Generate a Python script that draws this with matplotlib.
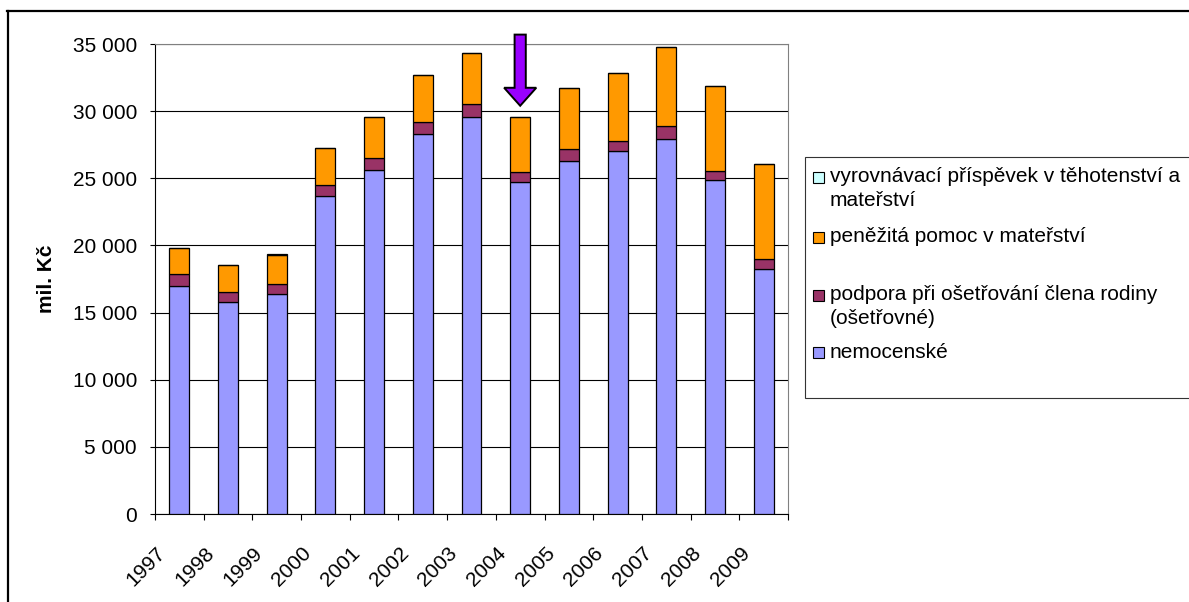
import matplotlib
matplotlib.use('Agg')
import matplotlib.pyplot as plt
import matplotlib.transforms as mtransforms
from matplotlib.patches import Rectangle, FancyArrow
from matplotlib.lines import Line2D
import numpy as np

plt.rcParams['font.family'] = ['Liberation Sans', 'DejaVu Sans']

# data (mil. Kč)
years = ['1997', '1998', '1999', '2000', '2001', '2002', '2003',
         '2004', '2005', '2006', '2007', '2008', '2009']
nemocenske = [16950, 15760, 16400, 23700, 25590, 28320, 29580,
              24720, 26300, 27050, 27950, 24840, 18220]
osetrovne = [920, 740, 750, 800, 940, 840, 950,
             750, 900, 750, 920, 720, 740]
penezita_pomoc = [1910, 2020, 2150, 2780, 3050, 3500, 3820,
                  4110, 4500, 5060, 5880, 6340, 7140]
vyrovnavaci = [0, 0, 60, 0, 0, 0, 0, 0, 0, 0, 0, 0, 0]

yticks = [0, 5000, 10000, 15000, 20000, 25000, 30000, 35000]
ytick_labels = ['0', '5 000', '10 000', '15 000', '20 000', '25 000', '30 000', '35 000']

legend_labels = {
    'vyrovnavaci': ['vyrovnávací příspěvek v těhotenství a', 'mateřství'],
    'penezita': ['peněžitá pomoc v mateřství'],
    'osetrovne': ['podpora při ošetřování člena rodiny', '(ošetřovné)'],
    'nemocenske': ['nemocenské'],
}

c_blue = '#9999FF'
c_maroon = '#993366'
c_orange = '#FF9900'
c_cyan = '#CCFFFF'

W, H = 1189, 602
fig = plt.figure(figsize=(W / 100, H / 100), dpi=100)
ax = fig.add_axes([155 / W, 88 / H, 633 / W, 470 / H])

x = np.arange(len(years))
bw = 0.41
b1 = np.array(nemocenske)
b2 = b1 + np.array(osetrovne)
b3 = b2 + np.array(penezita_pomoc)
kw = dict(width=bw, edgecolor='black', linewidth=0.9, zorder=3)
ax.bar(x, nemocenske, color=c_blue, **kw)
ax.bar(x, osetrovne, bottom=b1, color=c_maroon, **kw)
ax.bar(x, penezita_pomoc, bottom=b2, color=c_orange, **kw)
ax.bar(x, vyrovnavaci, bottom=b3, color=c_cyan, **kw)

# arrow over 2004
arr = FancyArrow(7, 35700, 0, -5300, width=0.23, head_width=0.66,
                 head_length=1340, length_includes_head=True,
                 facecolor='#9900FF', edgecolor='black', linewidth=1.4,
                 clip_on=False, zorder=5)
ax.add_patch(arr)

ax.set_xlim(-0.5, len(years) - 0.5)
ax.set_ylim(0, 35000)
ax.set_yticks(yticks)
ax.set_yticklabels(ytick_labels, fontsize=15)
ax.yaxis.grid(True, color='black', linewidth=0.8)
ax.set_axisbelow(True)
ax.tick_params(axis='y', direction='out', length=3.6, width=0.8, pad=9.4)

ax.set_xticks(x)
ax.set_xticklabels(years, fontsize=15, rotation=45, ha='right', va='center',
                   rotation_mode='anchor')
ax.set_xticks(np.arange(-0.5, len(years), 1), minor=True)
ax.tick_params(axis='x', which='major', length=0, pad=0)
ax.tick_params(axis='x', which='minor', direction='out', length=4.3, width=0.8)
offset = mtransforms.ScaledTranslation(-0.17, -0.36, fig.dpi_scale_trans)
for lbl in ax.get_xticklabels():
    lbl.set_transform(lbl.get_transform() + offset)

ax.spines['left'].set_color('black')
ax.spines['bottom'].set_color('black')
ax.spines['top'].set_color('#808080')
ax.spines['right'].set_color('#808080')
for s in ax.spines.values():
    s.set_linewidth(0.8)

ax.set_ylabel('mil. Kč', fontsize=15, fontweight='bold', va='center')
ax.yaxis.set_label_coords((46 - 155) / 633, 0.5)


def fx(px):
    return px / W


def fy(py):
    return (H - py) / H


# outer frame of the figure block
fig.add_artist(Line2D([fx(7.5), fx(7.5)], [fy(H + 5), fy(11)], color='black', linewidth=1.6))
fig.add_artist(Line2D([fx(6.5), fx(W + 5)], [fy(11), fy(11)], color='black', linewidth=1.6))

# legend drawn by hand (Excel style with wrapped entries)
fig.add_artist(Rectangle((fx(805), fy(398)), fx(W + 20) - fx(805), fy(157) - fy(398),
                         transform=fig.transFigure, facecolor='white',
                         edgecolor='#333333', linewidth=0.8))
entries = [
    (c_cyan, legend_labels['vyrovnavaci'], 177),
    (c_orange, legend_labels['penezita'], 237),
    (c_maroon, legend_labels['osetrovne'], 295),
    (c_blue, legend_labels['nemocenske'], 352),
]
for color, lines, ym in entries:
    fig.add_artist(Rectangle((fx(813), fy(ym + 5.5)), fx(11), 11 / H,
                             transform=fig.transFigure, facecolor=color,
                             edgecolor='black', linewidth=0.8))
    for i, line in enumerate(lines):
        fig.text(fx(830), fy(ym + i * 23.5), line, fontsize=15,
                 ha='left', va='center')

fig.savefig('out.png', dpi=100)
